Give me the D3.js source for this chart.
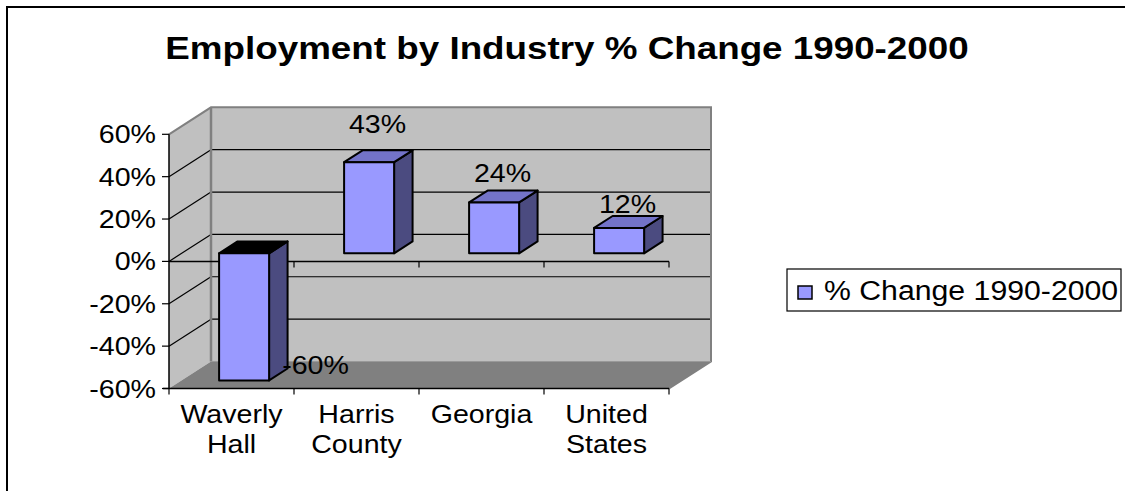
<!DOCTYPE html>
<html>
<head>
<meta charset="utf-8">
<script src="https://cdn.jsdelivr.net/npm/d3@7"></script>
<style>
  body { margin: 0; background: #fff; }
  text { font-family: Arial, "Liberation Sans", sans-serif; fill: #000; }
</style>
</head>
<body>
<div id="chart"></div>
<script>
// chart data
var categories = [["Waverly", "Hall"], ["Harris", "County"], ["Georgia"], ["United", "States"]];
var values = [-60, 43, 24, 12];
var yTicks = [-60, -40, -20, 0, 20, 40, 60];
var seriesName = "% Change 1990-2000";
var title = "Employment by Industry % Change 1990-2000";

var W = 1125, H = 491;
var TX = 1.1; // text is stretched a bit horizontally in the picture
var DX = 42, DY = -27; // depth of the 3d box
var f1 = 0.3, f2 = 0.74; // front and back plane of the bars, as share of depth

var svg = d3.select("#chart").append("svg")
    .attr("width", W)
    .attr("height", H);

// outer border of the chart area
svg.append("rect")
    .attr("x", 7).attr("y", 7)
    .attr("width", W).attr("height", H)
    .attr("fill", "none").attr("stroke", "#000").attr("stroke-width", 2);

var x = d3.scaleBand().domain(d3.range(categories.length)).range([169, 669]).padding(0);
var y = d3.scaleLinear().domain([-60, 60]).range([388.5, 134.3]);

var x0 = x.range()[0], x1 = x.range()[1];
var yTop = y(60), yBot = y(-60);

function pts(a) { return a.map(function(p) { return p.join(","); }).join(" "); }

// walls
svg.append("polygon") // back wall
    .attr("points", pts([[x0 + DX, yTop + DY], [x1 + DX, yTop + DY], [x1 + DX, yBot + DY], [x0 + DX, yBot + DY]]))
    .attr("fill", "#c0c0c0");
svg.append("polygon") // side wall
    .attr("points", pts([[x0, yTop], [x0 + DX, yTop + DY], [x0 + DX, yBot + DY], [x0, yBot]]))
    .attr("fill", "#c0c0c0");
svg.append("polygon") // floor
    .attr("points", pts([[x0, yBot], [x0 + DX, yBot + DY], [x1 + DX, yBot + DY], [x1, yBot]]))
    .attr("fill", "#808080");

// gridlines on back wall and side wall
var inner = yTicks.filter(function(t) { return t > -60 && t < 60; });
svg.selectAll(".grid").data(inner).enter().append("line")
    .attr("x1", x0 + DX).attr("x2", x1 + DX)
    .attr("y1", function(d) { return y(d) + DY; })
    .attr("y2", function(d) { return y(d) + DY; })
    .attr("stroke", "#000").attr("stroke-width", 1.2);
svg.selectAll(".depth").data(inner).enter().append("line")
    .attr("x1", x0).attr("x2", x0 + DX)
    .attr("y1", function(d) { return y(d); })
    .attr("y2", function(d) { return y(d) + DY; })
    .attr("stroke", "#000").attr("stroke-width", 1.2);

// wall edges
svg.append("polyline")
    .attr("points", pts([[x0, yTop], [x0 + DX, yTop + DY], [x1 + DX, yTop + DY], [x1 + DX, yBot + DY], [x1, yBot]]))
    .attr("fill", "none").attr("stroke", "#808080").attr("stroke-width", 2);
svg.append("line")
    .attr("x1", x0 + DX).attr("x2", x0 + DX)
    .attr("y1", yTop + DY).attr("y2", yBot + DY)
    .attr("stroke", "#808080").attr("stroke-width", 2.5);
svg.append("line") // floor/back wall seam
    .attr("x1", x0 + DX).attr("x2", x1 + DX)
    .attr("y1", yBot + DY).attr("y2", yBot + DY)
    .attr("stroke", "#999").attr("stroke-width", 1);

// category axis at zero, on front plane
var bounds = d3.range(categories.length + 1).map(function(i) { return x0 + i * x.bandwidth(); });
svg.append("line")
    .attr("x1", x0).attr("x2", x1)
    .attr("y1", y(0)).attr("y2", y(0))
    .attr("stroke", "#000").attr("stroke-width", 1.5);
svg.selectAll(".zt").data(bounds.slice(1)).enter().append("line")
    .attr("x1", function(d) { return d; }).attr("x2", function(d) { return d; })
    .attr("y1", y(0)).attr("y2", y(0) + 6)
    .attr("stroke", "#000").attr("stroke-width", 1.2);

// bottom axis line with ticks
svg.append("line")
    .attr("x1", x0 - 6).attr("x2", x1)
    .attr("y1", yBot).attr("y2", yBot)
    .attr("stroke", "#000").attr("stroke-width", 1.5);
svg.selectAll(".bt").data(bounds).enter().append("line")
    .attr("x1", function(d) { return d; }).attr("x2", function(d) { return d; })
    .attr("y1", yBot).attr("y2", yBot + 6)
    .attr("stroke", "#000").attr("stroke-width", 1.2);

// value axis
svg.append("line")
    .attr("x1", x0).attr("x2", x0)
    .attr("y1", yTop).attr("y2", yBot)
    .attr("stroke", "#000").attr("stroke-width", 1.5);
svg.selectAll(".yt").data(yTicks).enter().append("line")
    .attr("x1", x0 - 7).attr("x2", x0)
    .attr("y1", function(d) { return y(d); })
    .attr("y2", function(d) { return y(d); })
    .attr("stroke", "#000").attr("stroke-width", 1.2);
svg.selectAll(".yl").data(yTicks).enter().append("text")
    .attr("transform", function(d) { return "translate(" + (x0 - 13) + "," + (y(d) + 9) + ") scale(" + TX + ",1)"; })
    .attr("text-anchor", "end")
    .style("font-size", "26px")
    .text(function(d) { return d + "%"; });

// bars
var bw = x.bandwidth() * 0.4;
var ox = f1 * DX, oy = f1 * DY, bx = (f2 - f1) * DX, by = (f2 - f1) * DY;
values.forEach(function(v, i) {
    var xc = x(i) + x.bandwidth() / 2 + ox;
    var xl = xc - bw / 2, xr = xc + bw / 2;
    var yt = y(Math.max(v, 0)) + oy, yb = y(Math.min(v, 0)) + oy;
    var g = svg.append("g").attr("stroke", "#000").attr("stroke-width", 2).attr("stroke-linejoin", "round");
    g.append("polygon")
        .attr("points", pts([[xr, yt], [xr + bx, yt + by], [xr + bx, yb + by], [xr, yb]]))
        .attr("fill", "#4b4b80");
    g.append("polygon")
        .attr("points", pts([[xl, yt], [xl + bx, yt + by], [xr + bx, yt + by], [xr, yt]]))
        .attr("fill", v < 0 ? "#000" : "#7373c8");
    g.append("rect")
        .attr("x", xl).attr("y", yt)
        .attr("width", bw).attr("height", yb - yt)
        .attr("fill", "#9999ff");
});

// value labels
svg.selectAll(".vl").data(values).enter().append("text")
    .attr("transform", function(v, i) {
        var xc = x(i) + x.bandwidth() / 2;
        var lx = v < 0 ? xc + 84 : xc + 21;
        var ly = v < 0 ? y(v) - 15 : y(v) - 18 - 0.44 * v;
        return "translate(" + lx + "," + ly + ") scale(" + TX + ",1)";
    })
    .attr("text-anchor", "middle")
    .style("font-size", "26px")
    .text(function(v) { return v + "%"; });

// category labels
var cl = svg.selectAll(".cl").data(categories).enter().append("g")
    .attr("transform", function(d, i) { return "translate(" + (x(i) + x.bandwidth() / 2) + ",423) scale(" + TX + ",1)"; });
cl.selectAll("text").data(function(d) { return d; }).enter().append("text")
    .attr("y", function(d, j) { return j * 30; })
    .attr("text-anchor", "middle")
    .style("font-size", "26px")
    .text(function(d) { return d; });

// title
svg.append("text")
    .attr("transform", "translate(567,59) scale(1.15,1)")
    .attr("text-anchor", "middle")
    .style("font-size", "32px")
    .style("font-weight", "bold")
    .text(title);

// legend
var lg = svg.append("g").attr("transform", "translate(787,269)");
lg.append("rect")
    .attr("width", 334).attr("height", 42)
    .attr("fill", "#fff").attr("stroke", "#000").attr("stroke-width", 1.2);
lg.append("rect")
    .attr("x", 11).attr("y", 17).attr("width", 14).attr("height", 13)
    .attr("fill", "#9999ff").attr("stroke", "#000").attr("stroke-width", 1.5);
lg.append("text")
    .attr("transform", "translate(37,31) scale(1.12,1)")
    .style("font-size", "27px")
    .text(seriesName);
</script>
</body>
</html>
